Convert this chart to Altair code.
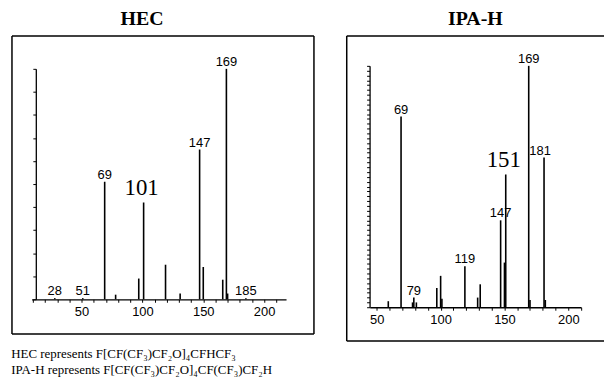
import altair as alt
import pandas as pd

# ---- data ----
hec_mass = [28, 51, 69, 78, 97, 101, 119, 131, 147, 150, 166, 169, 170, 185]
hec_int = [0.5, 0.5, 51, 2, 9, 42, 15, 2.5, 65, 14, 8.5, 100, 2.5, 0.5]
hec_lab_mass = [28, 51, 69, 147, 169, 185]
hec_big_mass = [101]

ipa_mass = [59, 69, 78, 79, 81, 97, 100, 101, 119, 129, 131, 147, 150, 151, 169, 170, 181, 182]
ipa_int = [2.5, 79, 2, 4, 2, 8, 13, 3.5, 17, 4, 9.5, 36, 18.5, 55, 100, 3, 62, 3]
ipa_lab_mass = [69, 79, 119, 147, 169]
ipa_lab_mass2 = [181]
ipa_big_mass = [151]

caption = [
    "HEC represents F[CF(CF\u2083)CF\u2082O]\u2084CFHCF\u2083",
    "IPA-H represents F[CF(CF\u2083)CF\u2082O]\u2084CF(CF\u2083)CF\u2082H",
]

SANS = "Liberation Sans"
SERIF = "Liberation Serif"


def peaks_df(mass, inten):
    return pd.DataFrame({"mass": mass, "intensity": inten})


def labels_df(mass_all, inten_all, sel):
    d = dict(zip(mass_all, inten_all))
    return pd.DataFrame({"mass": sel, "intensity": [d[m] for m in sel], "label": [str(m) for m in sel]})


def panel(mass, inten, lab_mass, big_mass, extra_mass, xdom, xrange, yrange, ytick_step,
          xoff, yoff, width, height, title, title_dx, open_right):
    xs = alt.Scale(domain=xdom, range=xrange, nice=False, zero=False)
    ys = alt.Scale(domain=[0, 100], range=yrange, nice=False, zero=True)
    lo, hi = xdom
    xticks = [v for v in range(10, 230, 10) if lo <= v <= hi]
    xaxis = alt.Axis(values=xticks, labelExpr="datum.value % 50 === 0 ? datum.label : ''",
                     labelOverlap=False, labelFlush=False, orient="bottom",
                     offset=xoff, tickSize=3, labelPadding=3, domainColor="black", tickColor="black",
                     labelColor="black", labelFont=SANS, labelFontSize=13, grid=False, title="",
                     domainWidth=1.3, tickWidth=1)
    yaxis = alt.Axis(values=list(range(0, 101, ytick_step)), labels=False, offset=yoff, tickSize=3,
                     orient="left", labelOverlap=False,
                     domainColor="black", tickColor="black", grid=False, title="", domainWidth=1.3,
                     tickWidth=1)
    X = alt.X("mass:Q", scale=xs, axis=xaxis)
    Y = alt.Y("intensity:Q", scale=ys, axis=yaxis)
    bars = alt.Chart(peaks_df(mass, inten)).mark_rule(color="black", strokeWidth=1.6).encode(
        x=X, y=Y, y2=alt.datum(0),
    )
    labs = alt.Chart(labels_df(mass, inten, lab_mass)).mark_text(
        font=SANS, fontSize=13, baseline="alphabetic", dy=-3, color="black"
    ).encode(x=X, y=Y, text="label:N")
    layers = [bars, labs]
    if extra_mass:
        layers.append(alt.Chart(labels_df(mass, inten, extra_mass)).mark_text(
            font=SANS, fontSize=13, baseline="alphabetic", dy=-3, dx=-4, color="black"
        ).encode(x=X, y=Y, text="label:N"))
    big = alt.Chart(labels_df(mass, inten, big_mass)).mark_text(
        font=SERIF, fontSize=23, baseline="alphabetic", dy=-8, dx=-2, color="black"
    ).encode(x=X, y=Y, text="label:N")
    layers.append(big)
    one = pd.DataFrame({"a": [0]})
    layers.append(alt.Chart(one).mark_rule(color="black", strokeWidth=1.5).encode(
        x=alt.value(0), y=alt.value(0), y2=alt.value(height)))
    layers.append(alt.Chart(one).mark_rule(color="black", strokeWidth=1.5).encode(
        x=alt.value(0), x2=alt.value(width), y=alt.value(0)))
    layers.append(alt.Chart(one).mark_rule(color="black", strokeWidth=1.5).encode(
        x=alt.value(0), x2=alt.value(width), y=alt.value(height)))
    if not open_right:
        layers.append(alt.Chart(one).mark_rule(color="black", strokeWidth=1.5).encode(
            x=alt.value(width), y=alt.value(0), y2=alt.value(height)))
    ch = alt.layer(*layers).properties(
        width=width, height=height,
        title=alt.TitleParams(title, font=SERIF, fontSize=20, fontWeight="bold", color="black",
                              dx=title_dx, offset=6, anchor="middle"),
    )
    return ch


left = panel(hec_mass, hec_int, hec_lab_mass, hec_big_mass, None,
             [9, 218], [19.8, 275.9], [265, 33], 10, -35, -24, 304, 300, "HEC", -21, False)
right = panel(ipa_mass, ipa_int, ipa_lab_mass, ipa_big_mass, ipa_lab_mass2,
              [44.5, 210], [23.2, 235.9], [273, 30], 2, -34, -23, 259, 307, "IPA-H", 0, True)

chart = alt.hconcat(left, right, spacing=31).properties(
    padding={"left": 3, "top": 0, "right": 0, "bottom": 0},
    background="white",
    title=alt.TitleParams(caption, orient="bottom", anchor="start", font=SERIF, fontSize=13,
                          fontWeight="normal", lineHeight=16, offset=6, color="black"),
).configure_view(strokeWidth=0, stroke="transparent")

chart.save("out.html", embed_options={"renderer": "svg", "actions": False})
